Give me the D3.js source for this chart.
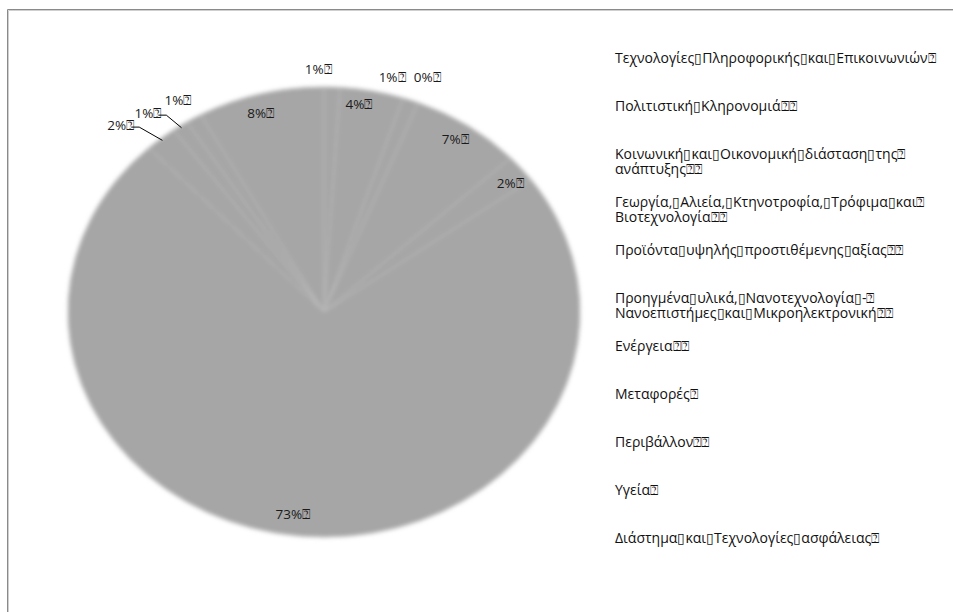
<!DOCTYPE html>
<html><head><meta charset="utf-8">
<script src="https://cdn.jsdelivr.net/npm/d3@7/dist/d3.min.js"></script>
<style>body{margin:0;background:#fff} svg{display:block}</style>
</head><body><svg id="c" width="953" height="612"></svg>
<script>
// ---- data ----
const categories = [
  "Τεχνολογίες Πληροφορικής και Επικοινωνιών⍰",
  "Πολιτιστική Κληρονομιά⍰⍰",
  "Κοινωνική και Οικονομική διάσταση της⍰\nανάπτυξης⍰⍰",
  "Γεωργία, Αλιεία, Κτηνοτροφία, Τρόφιμα και⍰\nΒιοτεχνολογία⍰⍰",
  "Προϊόντα υψηλής προστιθέμενης αξίας⍰⍰",
  "Προηγμένα υλικά, Νανοτεχνολογία -⍰\nΝανοεπιστήμες και Μικροηλεκτρονική⍰⍰",
  "Ενέργεια⍰⍰",
  "Μεταφορές⍰",
  "Περιβάλλον⍰⍰",
  "Υγεία⍰",
  "Διάστημα και Τεχνολογίες ασφάλειας⍰"
];
const values = [1, 4, 1, 0, 7, 2, 73, 2, 1, 1, 8];

// label layout nudges: [angle shift (deg), radius factor, leader line]
const labelNudge = [
  [-3, 1.08], [-2.4, 0.934], [-5.5, 1.077], [-0.5, 1.119], [-0.5, 0.924],
  [1.4, 0.926], [2.3, 0.906], [-4.1, 1.149, true], [-3.7, 1.12, true],
  [-0.6, 1.101], [-1.2, 0.918]
];

// ---- layout ----
const svg = d3.select("#c");
const cx = 324, cy = 312, rx = 256, ry = 225;
const sx = rx / ry;

// frame
svg.append("path").attr("d", "M7.5,612 V9.5 H953").attr("fill", "none")
  .attr("stroke", "#8a8a8a").attr("stroke-width", 1);
svg.append("path").attr("d", "M8.5,612 V10.5 H953").attr("fill", "none")
  .attr("stroke", "#cfcfcf").attr("stroke-width", 1);

const defs = svg.append("defs");
defs.append("filter").attr("id", "soft").attr("x", "-10%").attr("y", "-10%")
  .attr("width", "120%").attr("height", "120%")
  .append("feGaussianBlur").attr("stdDeviation", 2);

const pie = d3.pie().sort(null).value(d => d)(values);
const arc = d3.arc().innerRadius(0).outerRadius(ry);
const total = d3.sum(values);

const g = svg.append("g").attr("filter", "url(#soft)")
  .attr("transform", `translate(${cx},${cy}) scale(${sx},1)`);
g.selectAll("path.slice").data(pie).join("path").attr("class", "slice")
  .attr("d", arc).attr("fill", "#a6a6a6")
  .attr("stroke", "#bcbcbc").attr("stroke-width", 1)
  .attr("vector-effect", "non-scaling-stroke");

function pt(angle, r) {
  return [cx + rx * r * Math.sin(angle), cy - ry * r * Math.cos(angle)];
}

const fmt = v => Math.round(v / total * 100) + "%⍰";
const labels = svg.append("g").attr("font-family", "'Open Sans', 'Noto Sans', sans-serif")
  .attr("font-size", 13.5).attr("fill", "#1a1a1a");

pie.forEach((d, i) => {
  const mid = (d.startAngle + d.endAngle) / 2;
  const [da, r, leader] = labelNudge[i];
  const a = mid + da * Math.PI / 180;
  const [x, y] = pt(a, r);
  const t = labels.append("text").attr("x", x).attr("y", y)
    .attr("text-anchor", "middle").attr("dominant-baseline", "central")
    .text(fmt(d.value));
  if (leader) {
    const bb = t.node().getBBox();
    const x0 = bb.x + bb.width - 3, y0 = y + 2;
    const [ex, ey] = pt(mid, 0.99);
    labels.append("path")
      .attr("d", `M${x0},${y0} H${x0 + 8} L${ex},${ey}`)
      .attr("fill", "none").attr("stroke", "#000").attr("stroke-width", 1);
  }
});

// legend
const ly = d3.scalePoint().domain(d3.range(categories.length)).range([57, 537]);
const leg = svg.append("g").attr("font-family", "'Open Sans', 'Noto Sans', sans-serif")
  .attr("font-size", 14).attr("fill", "#111");
categories.forEach((c, i) => {
  const lines = c.replace(/ /g, "▯").split("\n");
  lines.forEach((l, j) => leg.append("text").attr("x", 615).attr("y", ly(i) + j * 15)
    .attr("dominant-baseline", "central").text(l));
});
</script></body></html>
